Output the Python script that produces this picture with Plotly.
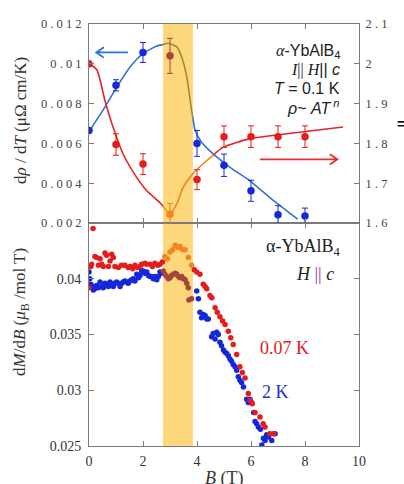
import numpy as np
import plotly.graph_objects as go

# ---------------- data ----------------
# top panel: d(rho)/dT (left axis, blue) and exponent n (right axis, red) at T = 0.1 K
B_top = [0, 1, 2, 3, 4, 5, 6, 7, 8]
drho_dT = [0.00665, 0.00892, 0.01057, 0.0104, 0.0060, 0.0049, 0.00362, 0.00242, 0.00235]
drho_err = [0.0, 0.00028, 0.0005, 0.00088, 0.00065, 0.00056, 0.00053, 0.00045, 0.0004]
n_exp = [2.0, 1.797, 1.748, 1.622, 1.709, 1.817, 1.817, 1.817, 1.817]
n_err = [0.0, 0.027, 0.026, 0.027, 0.025, 0.027, 0.027, 0.027, 0.027]

# guide-to-the-eye curves
blue_curve_B = [0.03, 0.59, 1.03, 1.52, 2.01, 2.51, 2.94, 3.25, 3.43, 3.62, 3.80, 3.93,
                4.17, 4.60, 5.22, 5.96, 6.70, 7.73]
blue_curve_v = [0.00665, 0.00782, 0.00883, 0.00984, 0.01052, 0.01089, 0.01103, 0.01085,
                0.01035, 0.00934, 0.00766, 0.00665, 0.00606, 0.00547, 0.0048, 0.00412,
                0.00328, 0.00219]
red_curve_B = [0.0, 0.29, 0.59, 0.89, 1.26, 1.77, 2.14, 2.63, 3.0, 3.25, 3.48, 3.85,
               4.36, 4.96, 5.96, 6.95, 9.41]
red_curve_n = [2.0, 1.985, 1.908, 1.841, 1.774, 1.714, 1.681, 1.651, 1.622, 1.648, 1.689,
               1.724, 1.757, 1.79, 1.812, 1.821, 1.841]

# bottom panel: dM/dB at 0.07 K (red) and 2 K (blue)
B_007 = [0.00, 0.07, 0.10, 0.15, 0.22, 0.28, 0.35, 0.41, 0.47, 0.53, 0.59, 0.65, 0.72, 0.78,
         0.84, 0.90, 0.96, 1.09, 1.20, 1.33, 1.45, 1.52, 1.62, 1.70, 1.80, 1.89, 1.95, 2.07,
         2.13, 2.26, 2.35, 2.44, 2.55, 2.63, 2.72, 2.81, 2.90, 3.00, 3.10, 3.19, 3.30, 3.37,
         3.47, 3.56, 3.68, 3.80, 3.90, 3.99, 4.11, 4.23, 4.30, 4.36, 4.48, 4.55, 4.67, 4.75,
         4.85, 4.95, 5.04, 5.16, 5.25, 5.34, 5.47, 5.59, 5.68, 5.78, 5.90, 5.96, 6.05, 6.15,
         6.33, 6.45, 6.52, 6.70, 6.83]
dMdB_007 = [0.0392, 0.0411, 0.0413, 0.0445, 0.0420, 0.0419, 0.0412, 0.0418, 0.0413, 0.0411,
            0.0423, 0.0421, 0.0411, 0.0416, 0.0422, 0.0419, 0.0411, 0.0410, 0.0412, 0.0412,
            0.0410, 0.0411, 0.0409, 0.0412, 0.0410, 0.0411, 0.0413, 0.0414, 0.0413, 0.0413,
            0.0411, 0.0414, 0.0412, 0.0413, 0.0415, 0.0420, 0.0418, 0.0424, 0.0426, 0.0430,
            0.0428, 0.0429, 0.0426, 0.0426, 0.0419, 0.0412, 0.0408, 0.0406, 0.0404, 0.0395,
            0.0393, 0.0391, 0.0385, 0.0383, 0.0374, 0.0370, 0.0366, 0.0362, 0.0359, 0.0353,
            0.0347, 0.0341, 0.0332, 0.0321, 0.0316, 0.0311, 0.0297, 0.0291, 0.0288, 0.0280,
            0.0276, 0.0270, 0.0267, 0.0261, 0.0261]
B_2K = [0.00, 0.03, 0.07, 0.12, 0.16, 0.22, 0.28, 0.35, 0.41, 0.47, 0.53, 0.59, 0.65, 0.72,
        0.78, 0.84, 0.90, 0.96, 1.02, 1.09, 1.15, 1.21, 1.27, 1.33, 1.39, 1.45, 1.52, 1.58,
        1.64, 1.70, 1.77, 1.83, 1.89, 1.95, 2.01, 2.07, 2.14, 2.20, 2.26, 2.32, 2.38, 2.45,
        2.51, 2.57, 2.63, 2.69, 2.75, 2.81, 2.88, 2.94, 3.00, 3.06, 3.13, 3.19, 3.25, 3.31,
        3.37, 3.43, 3.50, 3.56, 3.62, 3.68, 3.70, 3.80, 3.99, 4.05, 4.11, 4.17, 4.23, 4.30,
        4.36, 4.42, 4.54, 4.60, 4.67, 4.73, 4.79, 4.85, 4.91, 4.98, 5.04, 5.10, 5.16, 5.22,
        5.28, 5.34, 5.41, 5.47, 5.53, 5.59, 5.65, 5.72, 5.84, 5.90, 5.96, 6.02, 6.10, 6.15,
        6.21, 6.27, 6.35, 6.40, 6.46, 6.52, 6.58, 6.65, 6.77, 6.89]
dMdB_2K = [0.0406, 0.0400, 0.0395, 0.0393, 0.0390, 0.0391, 0.0394, 0.0392, 0.0397, 0.0393,
           0.0392, 0.0396, 0.0395, 0.0393, 0.0397, 0.0395, 0.0393, 0.0396, 0.0397, 0.0396,
           0.0393, 0.0396, 0.0397, 0.0398, 0.0397, 0.0396, 0.0398, 0.0399, 0.0400, 0.0398,
           0.0404, 0.0401, 0.0403, 0.0407, 0.0407, 0.0405, 0.0406, 0.0403, 0.0402, 0.0402,
           0.0400, 0.0402, 0.0399, 0.0402, 0.0406, 0.0405, 0.0407, 0.0404, 0.0402, 0.0400,
           0.0401, 0.0403, 0.0404, 0.0405, 0.0404, 0.0402, 0.0401, 0.0402, 0.0400, 0.0399,
           0.0396, 0.0392, 0.0381, 0.0382, 0.0389, 0.0382, 0.0370, 0.0365, 0.0368, 0.0367,
           0.0364, 0.0364, 0.0348, 0.0351, 0.0346, 0.0352, 0.0350, 0.0343, 0.0340, 0.0336,
           0.0334, 0.0333, 0.0331, 0.0328, 0.0326, 0.0323, 0.0321, 0.0318, 0.0312, 0.0309,
           0.0307, 0.0303, 0.0292, 0.0289, 0.0292, 0.0289, 0.0280, 0.0272, 0.0270, 0.0267,
           0.0265, 0.0251, 0.0257, 0.0255, 0.0260, 0.0258, 0.0255, 0.0261]

x_ticks = [0, 2, 4, 6, 8, 10]
top_left_ticks = [0.002, 0.004, 0.006, 0.008, 0.01, 0.012]
top_left_labels = ["0.002", "0.004", "0.006", "0.008", "0.01", "0.012"]
top_right_ticks = [1.6, 1.7, 1.8, 1.9, 2.0, 2.1]
top_right_labels = ["1.6", "1.7", "1.8", "1.9", "2", "2.1"]
bot_ticks = [0.025, 0.03, 0.035, 0.04, 0.045]
bot_labels = ["0.025", "0.03", "0.035", "0.04", ""]

# ---------------- style ----------------
W, H = 404, 484
BAND = (2.74, 3.85)
SERIF = "Liberation Serif, Times New Roman, serif"
SANS = "Liberation Sans, Arial, sans-serif"
AX = "#7a7a7a"
BLUE_PT = "#1428d8"
RED_PT = "#e61c1c"
BLUE_LN = "#3470d8"
RED_LN = "#e82222"
ORANGE = "#f3841e"
OLIVE = "#9c8c3c"
BROWN = "#a6463a"
YELLOW = "#fdd77c"


def px(x):
    return x / W


def py(y):
    return 1 - y / H


def spaced(s):
    return " ".join(list(s))


x0, x1 = px(89), px(359)
top_dom = [py(223), py(24)]
bot_dom = [py(446), py(223)]

fig = go.Figure()

# yellow band
fig.add_shape(type="rect", xref="x", yref="paper", x0=BAND[0], x1=BAND[1],
              y0=bot_dom[0], y1=top_dom[1], fillcolor=YELLOW, line_width=0, layer="below")


def in_band(b):
    return BAND[0] <= b <= BAND[1]


# ---- bottom panel scatter ----
for Bs, vs, col, bcol in [(B_2K, dMdB_2K, BLUE_PT, BROWN), (B_007, dMdB_007, RED_PT, ORANGE)]:
    cols = [bcol if in_band(b) else col for b in Bs]
    fig.add_trace(go.Scatter(x=Bs, y=vs, mode="markers", xaxis="x", yaxis="y",
                             marker=dict(size=5.5, color=cols), showlegend=False,
                             hoverinfo="skip"))


# ---- top panel curves, split into colored segments ----
def segments(Bs, vs, splits, colors, yaxis):
    Bs = np.asarray(Bs, float)
    vs = np.asarray(vs, float)
    edges = [Bs[0]] + list(splits) + [Bs[-1]]
    for i, c in enumerate(colors):
        a, b = edges[i], edges[i + 1]
        inner = Bs[(Bs > a) & (Bs < b)]
        xs = np.concatenate([[a], inner, [b]])
        ys = np.interp(xs, Bs, vs)
        fig.add_trace(go.Scatter(x=xs, y=ys, mode="lines", xaxis="x2", yaxis=yaxis,
                                 line=dict(color=c, width=1.6, shape="spline", smoothing=0.6),
                                 showlegend=False, hoverinfo="skip"))


segments(blue_curve_B, blue_curve_v, [BAND[0], BAND[1]], [BLUE_LN, OLIVE, BLUE_LN], "y2")
segments(red_curve_B, red_curve_n, [BAND[0], 4.6], [RED_LN, ORANGE, RED_LN], "y3")

# ---- top panel points with error bars ----
for Bs, vs, es, col, bcol, yax in [(B_top, drho_dT, drho_err, BLUE_PT, BROWN, "y2"),
                                    (B_top, n_exp, n_err, RED_PT, ORANGE, "y3")]:
    for inside in (False, True):
        idx = [i for i, b in enumerate(Bs) if in_band(b) == inside]
        c = bcol if inside else col
        fig.add_trace(go.Scatter(
            x=[Bs[i] for i in idx], y=[vs[i] for i in idx], mode="markers",
            xaxis="x2", yaxis=yax,
            marker=dict(size=7.5, color=c),
            error_y=dict(type="data", array=[es[i] for i in idx], visible=True,
                         color=c, thickness=1, width=3),
            showlegend=False, hoverinfo="skip"))

axis_common = dict(showline=True, linecolor=AX, linewidth=1, ticks="inside", ticklen=5,
                   tickcolor=AX, mirror="ticks", showgrid=False, zeroline=False,
                   automargin=False)

fig.update_layout(
    width=W, height=H, margin=dict(l=0, r=0, t=0, b=0, autoexpand=False),
    paper_bgcolor="white", plot_bgcolor="rgba(0,0,0,0)",
    xaxis=dict(domain=[x0, x1], anchor="y", range=[0, 10], tickvals=x_ticks,
               tickfont=dict(family=SERIF, size=14, color="#333"), ticklabelstandoff=2,
               **axis_common),
    yaxis=dict(domain=bot_dom, anchor="x", range=[0.025, 0.045], tickvals=bot_ticks,
               ticktext=bot_labels, tickfont=dict(family=SERIF, size=14, color="#333"),
               ticklabelstandoff=4, **axis_common),
    xaxis2=dict(domain=[x0, x1], anchor="y2", range=[0, 10], tickvals=x_ticks,
                showticklabels=False, **axis_common),
    yaxis2=dict(domain=top_dom, anchor="x2", range=[0.002, 0.012], tickvals=top_left_ticks,
                ticktext=[spaced(t) for t in top_left_labels],
                tickfont=dict(family=SERIF, size=12.5, color="#444"), ticklabelstandoff=4,
                showline=True, linecolor=AX, ticks="inside", ticklen=5, tickcolor=AX,
                showgrid=False, zeroline=False, mirror=True, automargin=False),
    yaxis3=dict(overlaying="y2", anchor="x2", side="right", range=[1.6, 2.1],
                tickvals=top_right_ticks, ticktext=[spaced(t) for t in top_right_labels],
                tickfont=dict(family=SERIF, size=12.5, color="#444"), ticklabelstandoff=3,
                showline=True, linecolor=AX, ticks="inside", ticklen=5, tickcolor=AX,
                showgrid=False, zeroline=False, automargin=False),
)

# ---- arrows (decorations) ----
# blue arrow to the left (left axis units)
fig.add_shape(type="path", xref="x2", yref="y2",
              path="M 1.44 0.01057 L 0.27 0.01057 M 0.55 0.01083 L 0.27 0.01057 L 0.55 0.01031",
              line=dict(color="#2f6fe0", width=1.8))
# red arrow to the right
fig.add_shape(type="path", xref="x2", yref="y2",
              path="M 6.33 0.0052 L 9.2 0.0052 M 8.92 0.00546 L 9.2 0.0052 L 8.92 0.00494",
              line=dict(color="#e53030", width=1.8))

ann = []


def text(x, y, s, font, xanchor="center", angle=0):
    ann.append(dict(x=px(x), y=py(y), xref="paper", yref="paper", text=s, showarrow=False,
                    xanchor=xanchor, yanchor="middle", font=font, textangle=angle))


tf = dict(family=SANS, size=16, color="#222")
text(342, 52, "<span style='font-family:Liberation Serif'><i>α</i></span>-YbAlB<sub>4</sub>", tf, "right")
text(342, 70, "<span style='font-family:Liberation Serif'><i>I</i>|| <i>H</i></span>|| <i>c</i>", tf, "right")
text(342, 88, "<i>T</i> = 0.1 K", tf, "right")
text(342, 107, "<i>ρ</i>~ <i>AT</i><sup> <i>n</i></sup>", tf, "right")

sf = dict(family=SERIF, size=18, color="#222")
text(342, 248, "α-YbAlB<sub>4</sub>", sf, "right")
text(336, 274, "<i>H</i> <span style='color:#8a3aa8'>||</span> <i>c</i>", sf, "right")
text(258, 348, "0.07 K", dict(family=SERIF, size=18, color="#e02020"), "left")
text(260, 392, "2 K", dict(family=SERIF, size=18, color="#2030d0"), "left")

yt = dict(family=SERIF, size=17, color="#333")
text(20, 121, "d<i>ρ</i> / d<i>T</i> (μΩ cm/K)", yt, angle=-90)
text(21, 312, "d<i>M</i>/d<i>B</i> (<i>μ</i><sub>B</sub> /mol T)", yt, angle=-90)
text(224, 478, "<i>B</i> (T)", dict(family=SERIF, size=18, color="#333"))
text(401, 124, "<b>=</b>", dict(family=SANS, size=14, color="#111"))

fig.update_layout(annotations=ann)
fig.write_html("out.html", config={"displayModeBar": False},
               post_script="document.body.style.margin='0';document.body.style.overflow='hidden';")
